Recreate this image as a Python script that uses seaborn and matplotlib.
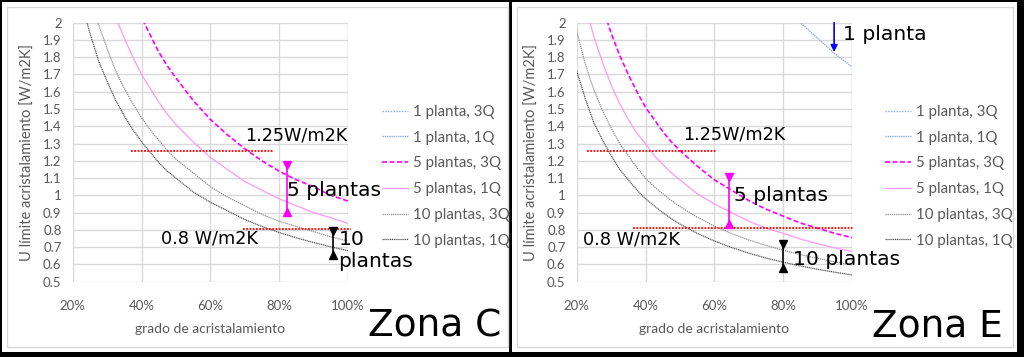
import numpy as np
import pandas as pd
import matplotlib
matplotlib.use('Agg')
import matplotlib.pyplot as plt
from matplotlib.patches import Rectangle
from matplotlib.lines import Line2D
from matplotlib.ticker import PercentFormatter, MultipleLocator, FuncFormatter
import seaborn as sns

# grado de acristalamiento (fraction)
grado = [0.20, 0.225, 0.25, 0.275, 0.30, 0.325, 0.35, 0.375, 0.40, 0.425,
         0.45, 0.475, 0.50, 0.55, 0.60, 0.65, 0.70, 0.75, 0.80, 0.85,
         0.90, 0.95, 1.00]
nan = np.nan

# Zona C - U limite [W/m2K]
c_1pl_3q = [nan] * 23
c_1pl_1q = [nan] * 23
c_5pl_3q = [nan, nan, nan, nan, nan, nan, 2.28, 2.15, 2.03, 1.93, 1.83, 1.75, 1.68,
            1.55, 1.44, 1.35, 1.27, 1.20, 1.14, 1.09, 1.05, 1.00, 0.967]
c_5pl_1q = [nan, nan, nan, 2.35, 2.18, 2.03, 1.91, 1.80, 1.70, 1.62, 1.54, 1.47, 1.41,
            1.31, 1.22, 1.15, 1.08, 1.03, 0.98, 0.94, 0.90, 0.87, 0.838]
c_10pl_3q = [nan, 2.37, 2.16, 1.99, 1.85, 1.72, 1.62, 1.53, 1.45, 1.38, 1.32, 1.26, 1.21,
             1.13, 1.05, 0.99, 0.94, 0.89, 0.85, 0.82, 0.79, 0.76, 0.736]
c_10pl_1q = [2.36, 2.12, 1.94, 1.78, 1.66, 1.55, 1.46, 1.38, 1.31, 1.25, 1.19, 1.14, 1.10,
             1.02, 0.96, 0.91, 0.86, 0.82, 0.785, 0.754, 0.727, 0.702, 0.680]

# Zona E
e_1pl_3q = [nan] * 23
e_1pl_1q = [nan] * 18 + [2.11, 2.00, 1.91, 1.82, 1.745]
e_5pl_3q = [nan, 2.50, 2.27, 2.09, 1.94, 1.81, 1.70, 1.60, 1.51, 1.44, 1.37, 1.31, 1.26,
            1.17, 1.09, 1.03, 0.97, 0.92, 0.88, 0.84, 0.81, 0.78, 0.755]
e_5pl_1q = [2.33, 2.10, 1.92, 1.77, 1.64, 1.53, 1.44, 1.36, 1.30, 1.23, 1.18, 1.13, 1.09,
            1.01, 0.95, 0.90, 0.85, 0.81, 0.78, 0.747, 0.72, 0.696, 0.674]
e_10pl_3q = [1.95, 1.76, 1.61, 1.49, 1.39, 1.30, 1.23, 1.16, 1.10, 1.05, 1.01, 0.97, 0.935,
             0.874, 0.822, 0.779, 0.742, 0.71, 0.682, 0.657, 0.635, 0.615, 0.597]
e_10pl_1q = [1.72, 1.56, 1.42, 1.32, 1.23, 1.15, 1.09, 1.03, 0.98, 0.94, 0.90, 0.865, 0.834,
             0.78, 0.736, 0.698, 0.665, 0.637, 0.613, 0.591, 0.572, 0.555, 0.539]

series_labels = ['1 planta, 3Q', '1 planta, 1Q', '5 plantas, 3Q',
                 '5 plantas, 1Q', '10 plantas, 3Q', '10 plantas, 1Q']

# limites (valor, desde, hasta)
c_limits = [(1.257, 0.37, 0.783), (0.805, 0.694, 1.008)]
e_limits = [(1.259, 0.231, 0.607), (0.81, 0.365, 1.006)]

# flechas (x, y_sup, y_inf)
c_arrows = [(0.822, 1.176, 0.902), (0.955, 0.794, 0.655)]
e_arrows = [(0.643, 1.108, 0.834), (0.80, 0.717, 0.581)]
e_arrow_1pl = (0.948, 2.0, 1.83)

styles = [
    dict(color='#8FAADC', lw=1.0, ls=(0, (1, 1))),
    dict(color='#8FAADC', lw=1.0, ls=(0, (1, 0.6))),
    dict(color='#FF00FF', lw=1.2, ls=(0, (3, 1.5))),
    dict(color='#FF99F5', lw=0.9, ls='-'),
    dict(color='#8C8C8C', lw=0.9, ls=(0, (1, 0.7))),
    dict(color='#5A5A5A', lw=0.9, ls=(0, (1, 0.5))),
]

sns.set_style('white')
plt.rcParams['font.family'] = ['Lato', 'DejaVu Sans']

W, H = 1024, 357
fig = plt.figure(figsize=(W / 100, H / 100), dpi=100, facecolor='black')

def px(x0, y0, x1, y1):
    return [x0 / W, 1 - y1 / H, (x1 - x0) / W, (y1 - y0) / H]

# panel backgrounds / borders
for r in [px(2, 2, 508.5, 352), px(511.5, 2, 1017, 352)]:
    fig.add_artist(Rectangle((r[0], r[1]), r[2], r[3], transform=fig.transFigure,
                             facecolor='white', edgecolor='none', zorder=-3))
for r in [px(6.7, 6.7, 507.7, 346.7), px(517, 6.7, 1012.7, 346.7)]:
    fig.add_artist(Rectangle((r[0], r[1]), r[2], r[3], transform=fig.transFigure,
                             facecolor='none', edgecolor='#D9D9D9', lw=1.0, zorder=-2))

ax_c = fig.add_axes(px(72.7, 22.7, 348, 281.7))
ax_e = fig.add_axes(px(576.7, 22.7, 852, 281.7))

gray_txt = '#595959'
big = 14.6
mid = 12.7


def draw_panel(ax, data, limits, arrows):
    for vals, st in zip(data, styles):
        df = pd.DataFrame({'grado': grado, 'U': vals}).dropna()
        if len(df):
            sns.lineplot(data=df, x='grado', y='U', ax=ax, color=st['color'],
                         lw=st['lw'], linestyle=st['ls'], errorbar=None,
                         legend=False, zorder=3)
    for val, x0, x1 in limits:
        sns.lineplot(x=[x0, x1], y=[val, val], ax=ax, color='#FF0000', lw=1.3,
                     linestyle=(0, (1, 0.8)), clip_on=False, zorder=4)
    for (x, y0, y1), col in zip(arrows, ['#FF00FF', 'black']):
        sns.lineplot(x=[x, x], y=[y0, y1], ax=ax, color=col, lw=1.2,
                     sort=False, estimator=None, zorder=5)
        ax.plot([x], [y0], marker='v', color=col, ms=6, zorder=5)
        ax.plot([x], [y1], marker='^', color=col, ms=6, zorder=5)

    ax.set_xlim(0.2, 1.0)
    ax.set_ylim(0.5, 2.0)
    ax.xaxis.set_major_locator(MultipleLocator(0.2))
    ax.xaxis.set_major_formatter(PercentFormatter(1.0, decimals=0))
    ax.yaxis.set_major_locator(MultipleLocator(0.1))
    ax.yaxis.set_major_formatter(FuncFormatter(lambda v, p: f'{v:.1f}'.rstrip('0').rstrip('.')))
    ax.grid(True, color='#D9D9D9', lw=1.0)
    ax.set_axisbelow(True)
    for s in ax.spines.values():
        s.set_visible(False)
    ax.tick_params(axis='both', length=0, labelsize=9.5, colors=gray_txt)
    ax.tick_params(axis='x', pad=13)
    ax.tick_params(axis='y', pad=8)
    ax.set_xlabel('grado de acristalamiento', fontsize=10, color=gray_txt, labelpad=8)
    ax.set_ylabel('U límite acristalamiento [W/m2K]', fontsize=10.5, color=gray_txt, labelpad=6)

    handles = [Line2D([], [], color=st['color'], lw=st['lw'], linestyle=st['ls'])
               for st in styles]
    return handles


h = draw_panel(ax_c, [c_1pl_3q, c_1pl_1q, c_5pl_3q, c_5pl_1q, c_10pl_3q, c_10pl_1q],
               c_limits, c_arrows)
draw_panel(ax_e, [e_1pl_3q, e_1pl_1q, e_5pl_3q, e_5pl_1q, e_10pl_3q, e_10pl_1q],
           e_limits, e_arrows)

# 1 planta arrow (Zona E)
x, y0, y1 = e_arrow_1pl
ax_e.annotate('', xy=(x, y1), xytext=(x, y0),
              arrowprops=dict(arrowstyle='-|>', color='#0000FF', lw=1.2,
                              mutation_scale=10, shrinkA=0, shrinkB=0))

for ax, lx in [(ax_c, 382), (ax_e, 885)]:
    leg = ax.legend(h, series_labels, loc='upper left',
                    bbox_to_anchor=(lx / W, 1 - 105 / H), bbox_transform=fig.transFigure,
                    frameon=False, fontsize=10.8, handlelength=1.75, handletextpad=0.3,
                    labelspacing=0.78, borderpad=0, borderaxespad=0)
    for t in leg.get_texts():
        t.set_color(gray_txt)

ann = dict(family='DejaVu Sans', color='black')
# Zona C texts
ax_c.text(0.701, 1.344, '1.25W/m2K', fontsize=mid, va='center', **ann)
ax_c.text(0.457, 0.753, '0.8 W/m2K', fontsize=mid, va='center', **ann)
ax_c.text(0.824, 1.031, '5 plantas', fontsize=big, va='center', **ann)
ax_c.text(0.972, 0.68, '10\nplantas', fontsize=big, va='center', linespacing=1.15, **ann)
# Zona E texts
ax_e.text(0.508, 1.35, '1.25W/m2K', fontsize=mid, va='center', **ann)
ax_e.text(0.218, 0.742, '0.8 W/m2K', fontsize=mid, va='center', **ann)
ax_e.text(0.657, 1.002, '5 plantas', fontsize=big, va='center', **ann)
ax_e.text(0.828, 0.63, '10 plantas', fontsize=big, va='center', **ann)
ax_e.text(0.975, 1.933, '1 planta', fontsize=big, va='center', **ann)

fig.text(368 / W, 1 - 336.7 / H, 'Zona C', fontsize=27, va='baseline', **ann)
fig.text(871.7 / W, 1 - 336.7 / H, 'Zona E', fontsize=27, va='baseline', **ann)

fig.savefig('out.png', dpi=100, facecolor=fig.get_facecolor())
